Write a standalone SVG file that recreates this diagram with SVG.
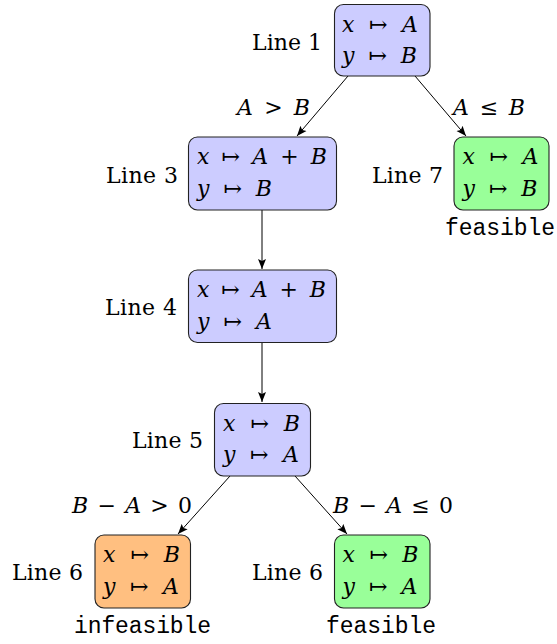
<svg xmlns="http://www.w3.org/2000/svg" width="557" height="644" viewBox="0 0 557 644">
<style>
.box{stroke:#222;stroke-width:1.1}
.blue{fill:#ccccff}.green{fill:#99ff99}.orange{fill:#ffbf80}
text{font-family:'DejaVu Serif','Liberation Serif',serif;font-size:22px;fill:#000}
.i{font-style:italic}
.mono{font-family:'Liberation Mono','DejaVu Sans Mono',monospace;font-size:23px}
.edge{stroke:#000;stroke-width:1;fill:none;marker-end:url(#arr)}
</style>
<defs>
<marker id="arr" viewBox="0 0 10 10" refX="10" refY="5" markerWidth="10" markerHeight="10" markerUnits="userSpaceOnUse" orient="auto">
<path d="M0,1 L10,5 L0,9 L2,5 Z" fill="#000"/>
</marker>
</defs>
<g id="edges">
<line class="edge" x1="348" y1="76" x2="297" y2="136"/>
<line class="edge" x1="415" y1="76" x2="466" y2="136"/>
<line class="edge" x1="262" y1="210" x2="262" y2="269"/>
<line class="edge" x1="262" y1="343" x2="262" y2="402"/>
<line class="edge" x1="230" y1="476" x2="178" y2="534"/>
<line class="edge" x1="295" y1="476" x2="347" y2="534"/>
<text x="237" y="115" textLength="73"><tspan class="i">A</tspan> &gt; <tspan class="i">B</tspan></text>
<text x="453" y="115" textLength="72"><tspan class="i">A</tspan> ≤ <tspan class="i">B</tspan></text>
<text x="72" y="513" textLength="120"><tspan class="i">B</tspan> − <tspan class="i">A</tspan> &gt; 0</text>
<text x="333" y="513" textLength="120"><tspan class="i">B</tspan> − <tspan class="i">A</tspan> ≤ 0</text>
</g>
<g id="n1">
<rect class="box blue" x="334.5" y="4.5" width="95.5" height="71.5" rx="9"/>
<text x="342" y="32" textLength="76"><tspan class="i">x</tspan> ↦ <tspan class="i">A</tspan></text>
<text x="342" y="63" textLength="75"><tspan class="i">y</tspan> ↦ <tspan class="i">B</tspan></text>
<text x="252" y="50" textLength="70">Line 1</text>
</g>
<g id="n3">
<rect class="box blue" x="188.5" y="137" width="148" height="73" rx="9"/>
<text x="197" y="164" textLength="130"><tspan class="i">x</tspan> ↦ <tspan class="i">A</tspan> + <tspan class="i">B</tspan></text>
<text x="197" y="195.5" textLength="75"><tspan class="i">y</tspan> ↦ <tspan class="i">B</tspan></text>
<text x="106" y="183" textLength="72">Line 3</text>
</g>
<g id="n7">
<rect class="box green" x="454" y="137" width="95" height="73" rx="9"/>
<text x="462.5" y="164" textLength="76"><tspan class="i">x</tspan> ↦ <tspan class="i">A</tspan></text>
<text x="462.5" y="195.5" textLength="75"><tspan class="i">y</tspan> ↦ <tspan class="i">B</tspan></text>
<text x="372" y="183" textLength="71">Line 7</text>
<text class="mono" x="445" y="235" textLength="110">feasible</text>
</g>
<g id="n4">
<rect class="box blue" x="188.5" y="270" width="148" height="72.5" rx="9"/>
<text x="197" y="297" textLength="129"><tspan class="i">x</tspan> ↦ <tspan class="i">A</tspan> + <tspan class="i">B</tspan></text>
<text x="197" y="328.5" textLength="75"><tspan class="i">y</tspan> ↦ <tspan class="i">A</tspan></text>
<text x="105" y="315" textLength="72">Line 4</text>
</g>
<g id="n5">
<rect class="box blue" x="214.5" y="403.5" width="96" height="72.5" rx="9"/>
<text x="223" y="431" textLength="77"><tspan class="i">x</tspan> ↦ <tspan class="i">B</tspan></text>
<text x="223" y="462" textLength="76"><tspan class="i">y</tspan> ↦ <tspan class="i">A</tspan></text>
<text x="132" y="448" textLength="71">Line 5</text>
</g>
<g id="n6a">
<rect class="box orange" x="95" y="535" width="95.5" height="73" rx="9"/>
<text x="103" y="562" textLength="77"><tspan class="i">x</tspan> ↦ <tspan class="i">B</tspan></text>
<text x="103" y="593.5" textLength="76"><tspan class="i">y</tspan> ↦ <tspan class="i">A</tspan></text>
<text x="12" y="580" textLength="71">Line 6</text>
<text class="mono" x="74" y="633" textLength="137">infeasible</text>
</g>
<g id="n6b">
<rect class="box green" x="334.5" y="535" width="95.5" height="73" rx="9"/>
<text x="342.5" y="562" textLength="76"><tspan class="i">x</tspan> ↦ <tspan class="i">B</tspan></text>
<text x="342.5" y="593.5" textLength="75"><tspan class="i">y</tspan> ↦ <tspan class="i">A</tspan></text>
<text x="252" y="580" textLength="71">Line 6</text>
<text class="mono" x="326" y="633" textLength="110">feasible</text>
</g>
</svg>
